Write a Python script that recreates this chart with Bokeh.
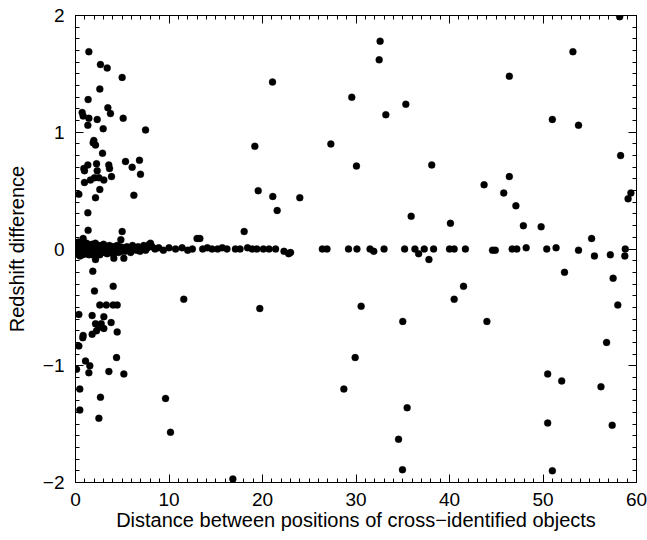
from bokeh.plotting import figure
from bokeh.models import LinearAxis, FixedTicker, Range1d, CustomLabelingPolicy
from bokeh.embed import file_html
from bokeh.resources import INLINE

# ---- data ----
# dense band near zero, small separations
band_a_x = [0.05,0.12,0.18,0.25,0.32,0.38,0.45,0.52,0.6,0.68,0.76,0.85,0.93,1.02,1.1,1.18,1.27,1.35,1.44,1.52,
            1.6,1.7,1.78,1.87,1.95,2.04,2.13,2.22,2.3,2.4,2.5,2.6,2.7,2.8,2.9,3.0,3.12,3.25,3.38,3.5,
            3.62,3.75,3.88,4.0,4.15,4.3,4.45,4.6,4.75,4.9]
band_a_y = [0.03,-0.04,0.05,-0.02,0.06,-0.05,0.01,0.04,-0.03,0.02,-0.05,0.04,-0.01,0.03,-0.04,0.05,-0.02,0.02,-0.05,0.03,
            0.0,-0.03,0.04,-0.01,0.02,-0.04,0.05,-0.02,0.01,-0.03,0.03,-0.05,0.02,0.0,-0.02,0.04,-0.03,0.01,-0.04,0.02,
            0.03,-0.02,0.0,-0.04,0.02,-0.01,0.03,-0.03,0.01,-0.02]
band_b_x = [0.08,0.22,0.35,0.48,0.65,0.8,0.97,1.15,1.32,1.48,1.65,1.82,2.0,2.18,2.35,2.55,2.75,2.95,3.2,3.45,
            3.7,3.95,4.2,4.5,4.8]
band_b_y = [-0.01,0.01,-0.02,-0.06,0.0,0.02,-0.03,0.0,0.04,-0.01,0.02,-0.05,0.01,0.0,-0.04,0.01,-0.03,0.03,0.0,-0.02,
            0.01,0.02,-0.03,0.0,0.02]
band_c_x = [5.1,5.3,5.5,5.7,5.9,6.1,6.3,6.5,6.7,6.9,7.1,7.3,7.5,7.7,7.9,8.2,8.5,8.9,9.4,10.0,10.7,11.4,12.0,12.5]
band_c_y = [0.01,-0.02,0.02,0.0,-0.03,0.03,0.01,-0.01,0.02,-0.02,0.0,0.03,-0.01,0.01,0.04,0.02,0.0,0.01,-0.01,0.01,
            0.0,0.01,-0.01,0.0]
# zero band, larger separations
band_d_x = [13.6,14.1,14.6,15.2,15.7,16.2,17.1,17.6,18.4,18.9,19.4,20.1,20.7,21.4,22.3,22.8,23.0,26.4,26.9,29.2,
            30.1,31.5,31.9,33.0,35.2,36.3,36.7,37.3,38.3,40.0,40.5,41.7,44.6,44.9,46.7,47.2,48.2,50.4,51.4,53.8,
            55.5,57.2,58.8,58.75]
band_d_y = [0.0,0.01,0.0,0.0,0.01,0.0,0.0,0.0,0.01,0.0,0.0,0.0,0.0,0.0,-0.02,-0.04,-0.03,0.0,0.0,0.0,
            0.0,0.0,-0.02,0.0,0.0,0.0,-0.04,0.0,0.0,0.0,0.0,0.0,-0.01,-0.01,0.0,0.0,0.01,0.0,0.01,-0.01,
            -0.06,-0.05,0.0,-0.06]
# scattered points above zero, small separations
upper_left_x = [1.43,2.67,3.39,4.99,2.60,1.35,3.46,3.74,0.71,0.82,1.43,2.32,5.10,1.32,2.96,7.49,1.96,1.89,2.14,2.89,
                1.32,2.25,2.32,3.56,3.64,5.35,6.06,6.84,6.95,0.89,0.96,3.85,0.96,1.60,2.03,2.50,3.03,2.60,0.36,2.14,
                6.24,1.32,1.35,4.99,0.82,4.85,13.0,13.3,8.02]
upper_left_y = [1.69,1.58,1.55,1.47,1.37,1.28,1.21,1.16,1.17,1.14,1.12,1.11,1.12,1.06,1.03,1.02,0.93,0.91,0.89,0.82,
                0.72,0.73,0.67,0.72,0.69,0.75,0.70,0.76,0.64,0.69,0.67,0.62,0.57,0.59,0.61,0.61,0.59,0.51,0.47,0.44,
                0.46,0.31,0.16,0.15,0.09,0.08,0.09,0.09,0.05]
# scattered points below zero, small separations
lower_left_x = [2.14,4.1,5.17,1.85,2.03,4.03,2.6,3.3,4.03,4.46,0.36,1.78,3.03,2.14,2.75,3.81,2.50,3.03,2.25,1.78,
                0.82,0.78,4.46,0.36,4.39,1.07,1.53,0.11,1.43,3.57,5.17,0.46,2.67,0.46,2.50,11.58,9.63,10.16]
lower_left_y = [-0.09,-0.08,-0.08,-0.19,-0.36,-0.32,-0.48,-0.48,-0.48,-0.48,-0.56,-0.57,-0.58,-0.64,-0.64,-0.63,-0.67,-0.68,-0.70,-0.73,
                -0.74,-0.76,-0.71,-0.83,-0.93,-0.96,-1.00,-1.03,-1.06,-1.05,-1.07,-1.20,-1.27,-1.38,-1.45,-0.43,-1.28,-1.57]
# scattered points, larger separations
far_x = [16.83,19.71,30.55,35.0,29.91,28.70,35.47,34.55,34.97,
         32.58,32.48,21.07,29.55,35.33,33.19,19.18,27.31,30.05,38.1,19.54,21.1,21.57,23.99,35.9,18.04,
         58.2,53.2,46.4,51.0,53.8,58.3,46.4,43.7,45.8,59.4,59.1,47.1,40.1,47.9,49.8,55.2,
         37.8,52.3,57.5,41.5,40.5,58.0,44.0,56.8,50.5,52.0,56.2,50.5,57.4,51.0]
far_y = [-1.97,-0.51,-0.49,-0.62,-0.93,-1.20,-1.36,-1.63,-1.89,
         1.78,1.62,1.43,1.30,1.24,1.15,0.88,0.90,0.71,0.72,0.50,0.45,0.33,0.44,0.28,0.15,
         1.99,1.69,1.48,1.11,1.06,0.80,0.62,0.55,0.48,0.48,0.43,0.37,0.22,0.20,0.19,0.09,
         -0.09,-0.20,-0.25,-0.32,-0.43,-0.48,-0.62,-0.80,-1.07,-1.13,-1.18,-1.49,-1.51,-1.90]

x_major = [0, 10, 20, 30, 40, 50, 60]
y_major = [-2, -1, 0, 1, 2]
y_labels = ["\u22122", "\u22121", "0", "1", "2"]
x_label = "Distance between positions of cross\u2212identified objects"
y_label = "Redshift difference"

FONT = "Liberation Sans"

p = figure(width=647, height=540, output_backend="svg", toolbar_location=None,
           x_range=Range1d(0, 60), y_range=Range1d(-2, 2),
           min_border_left=75, min_border_right=11, min_border_top=15, min_border_bottom=58)
p.background_fill_color = "white"
p.border_fill_color = "white"
p.outline_line_color = "black"
p.outline_line_width = 1
p.grid.visible = False

xs = band_a_x + band_b_x + band_c_x + band_d_x + upper_left_x + lower_left_x + far_x
ys = band_a_y + band_b_y + band_c_y + band_d_y + upper_left_y + lower_left_y + far_y
p.scatter(xs, ys, size=7, fill_color="black", line_color="black", line_width=0.3)

x_ticker = FixedTicker(ticks=x_major, minor_ticks=list(range(0, 61)))
y_ticker = FixedTicker(ticks=y_major, minor_ticks=[round(-2 + 0.1 * i, 1) for i in range(41)])

no_labels = CustomLabelingPolicy(code="""
for (let i = 0; i < indices.size; i++) {
  if (typeof indices.unset === 'function') { indices.unset(i) } else { indices.set(i, false) }
}
return indices
""")

def style(ax, labels=True):
    ax.axis_line_color = "black"
    ax.major_tick_in = 8
    ax.major_tick_out = 0
    ax.minor_tick_in = 4
    ax.minor_tick_out = 0
    ax.major_tick_line_color = "black"
    ax.minor_tick_line_color = "black"
    if labels:
        ax.major_label_text_font = FONT
        ax.major_label_text_font_size = "19px"
        ax.major_label_text_color = "black"
        ax.axis_label_text_font = FONT
        ax.axis_label_text_font_size = "20px"
        ax.axis_label_text_font_style = "normal"
        ax.axis_label_text_color = "black"
    else:
        ax.major_label_policy = no_labels
        ax.major_label_text_font_size = "0px"
        ax.major_label_standoff = 0
        ax.axis_label_standoff = 0

xa = p.xaxis[0]
xa.ticker = x_ticker
style(xa)
xa.axis_label = x_label
xa.major_label_standoff = 10
xa.axis_label_standoff = 0

ya = p.yaxis[0]
ya.ticker = y_ticker
style(ya)
ya.axis_label = y_label
ya.major_label_overrides = {v: t for v, t in zip(y_major, y_labels)}
ya.major_label_standoff = 11
ya.axis_label_standoff = 12

top = LinearAxis(ticker=x_ticker)
style(top, labels=False)
p.add_layout(top, "above")
right = LinearAxis(ticker=y_ticker)
style(right, labels=False)
p.add_layout(right, "right")

open("out.html", "w").write(file_html(p, INLINE))
